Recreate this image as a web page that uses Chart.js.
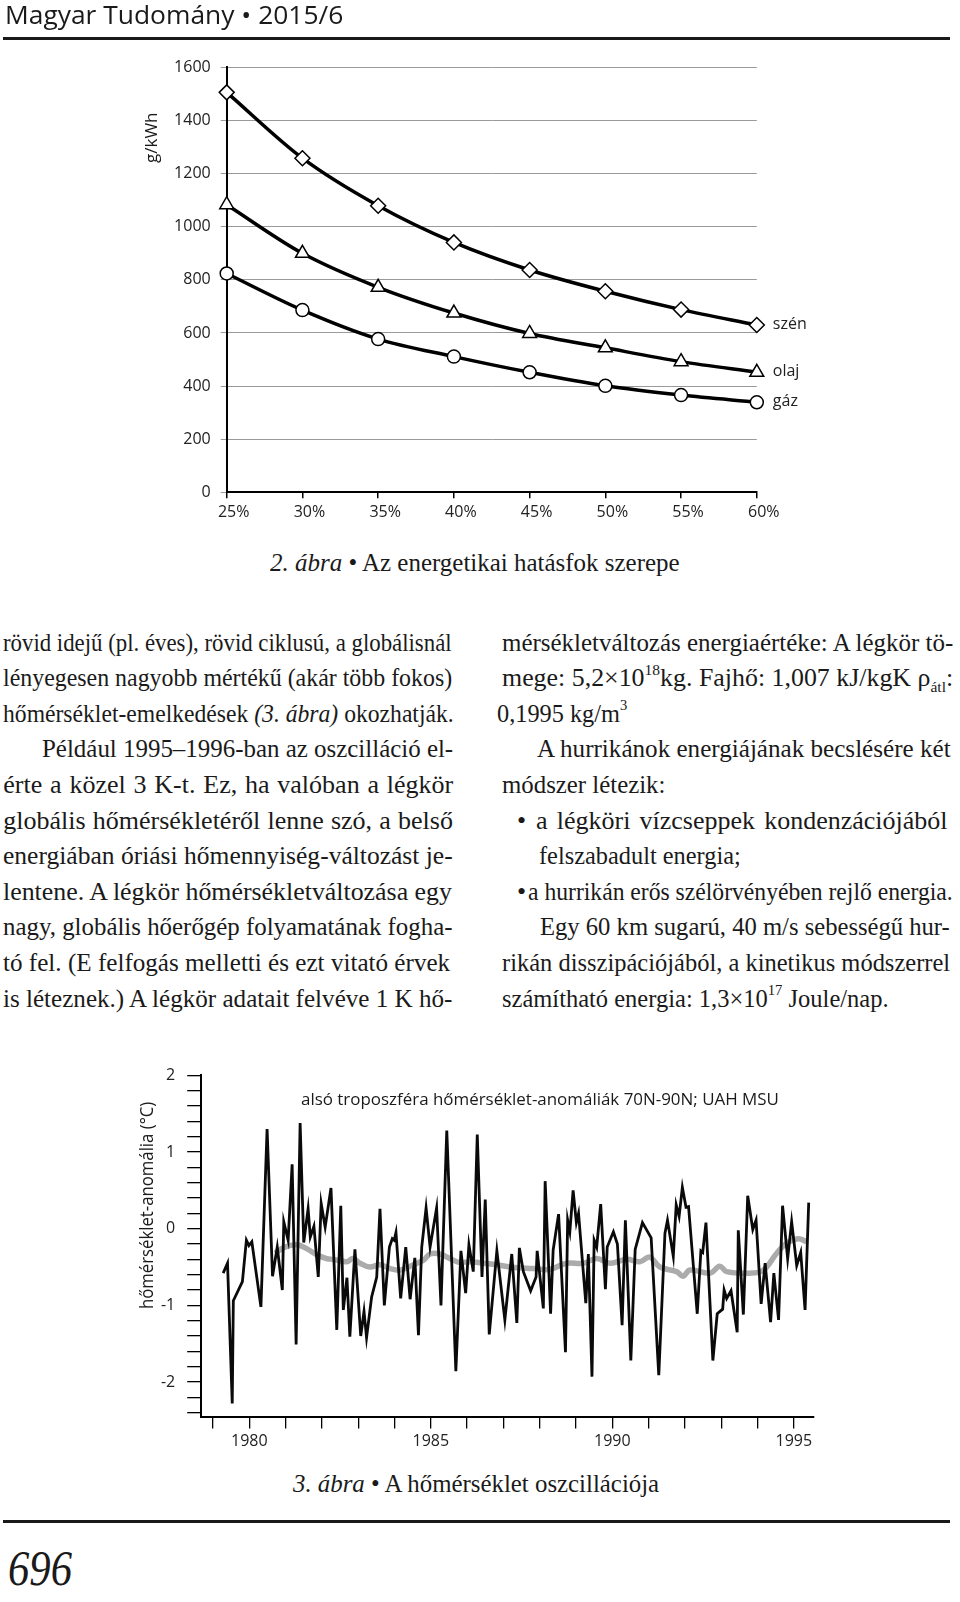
<!DOCTYPE html>
<html><head><meta charset="utf-8">
<script src="https://cdn.jsdelivr.net/npm/chart.js@4.4.1/dist/chart.umd.min.js"></script>
<style>
html,body{margin:0;padding:0;background:#fff;}
body{width:960px;height:1602px;position:relative;overflow:hidden;}
.t{position:absolute;white-space:nowrap;line-height:1;transform-origin:0 0;color:#1a1a1a;}
.serif{font-family:"Liberation Serif","DejaVu Serif",serif;}
.sans{font-family:"Open Sans","Noto Sans",sans-serif;}
.rule{position:absolute;left:3px;width:947px;height:3px;background:#1a1a1a;}
canvas{position:absolute;left:0;}
.sup{font-size:0.6em;position:relative;top:-0.75em;}
.sub{font-size:0.6em;position:relative;top:0.35em;}
</style></head><body>
<div class="rule" style="top:37px"></div>
<div class="rule" style="top:1520px"></div>
<canvas id="c1" width="960" height="540" style="top:0"></canvas>
<canvas id="c2" width="960" height="420" style="top:1040px"></canvas>
<script>
// ---------- Chart 1 data ----------
const efficiencyLabels = ['25%','30%','35%','40%','45%','50%','55%','60%'];
const coalValues = [1506, 1258, 1079, 941, 837, 757, 688, 630];
const oilValues  = [1083, 900, 772, 675, 598, 544, 492, 452];
const gasValues  = [824, 686, 577, 511, 452, 401, 366, 339];
const seriesNames = ['szén', 'olaj', 'gáz'];

// ---------- Chart 2 data ----------
const anomalyYears = [1979.28,1979.40,1979.53,1979.56,1979.81,1979.92,1979.99,1980.07,1980.32,1980.49,1980.64,1980.77,1980.91,1980.95,1981.07,1981.18,1981.29,1981.40,1981.50,1981.62,1981.68,1981.78,1981.90,1981.98,1982.09,1982.25,1982.41,1982.52,1982.59,1982.69,1982.77,1982.91,
1983.07,1983.16,1983.23,1983.37,1983.51,1983.60,1983.72,1983.86,1983.94,1983.99,1984.04,1984.17,1984.31,1984.43,1984.56,1984.66,1984.75,1984.87,1984.98,1985.16,1985.28,1985.44,1985.69,1985.83,1985.96,1986.05,1986.17,1986.28,1986.41,1986.50,1986.61,1986.82,
1987.04,1987.23,1987.37,1987.44,1987.55,1987.75,1987.90,1987.93,1988.10,1988.15,1988.30,1988.37,1988.52,1988.71,1988.77,1988.83,1988.92,1989.01,1989.07,1989.27,1989.34,1989.44,1989.50,1989.57,1989.68,1989.81,1989.86,1990.03,1990.14,1990.27,1990.36,1990.51,1990.63,1990.83,1991.07,1991.28,
1991.45,1991.52,1991.68,1991.76,1991.84,1991.93,1992.03,1992.10,1992.34,1992.44,1992.49,1992.58,1992.77,1992.89,1993.04,1993.08,1993.15,1993.27,1993.44,1993.47,1993.61,1993.73,1993.87,1993.96,1994.10,1994.21,1994.36,1994.45,1994.58,1994.69,1994.83,1994.94,1995.08,1995.19,1995.31,1995.41];
const anomalyValues = [-0.58,-0.45,-2.28,-0.94,-0.69,-0.15,-0.22,-0.17,-1.02,1.30,-0.62,-0.24,-0.80,0.09,-0.15,0.84,-1.51,1.38,-0.18,0.26,-0.11,0.03,-0.63,0.33,0.02,0.53,-1.32,0.30,-1.06,-0.64,-1.41,-0.27,
-1.40,-1.08,-1.42,-0.89,-0.63,0.26,-1.00,-0.24,-0.13,-0.15,-0.05,-0.91,-0.24,-0.92,-0.38,-1.39,-0.24,0.27,-0.24,0.27,-1.00,1.28,-1.86,-0.29,-0.84,-0.21,-0.56,1.23,-0.63,0.38,-1.38,-0.29,
-1.19,-0.33,-1.23,-0.25,-0.56,-0.81,-0.63,-0.29,-1.04,0.62,-1.11,-0.28,0.19,-1.61,0.11,-0.04,0.50,0.08,0.20,-0.97,-0.33,-1.93,-0.15,-0.24,0.32,-0.79,-0.24,-0.04,-0.20,-1.26,0.11,-1.72,-0.27,0.08,-0.12,-1.91,
-0.06,0.11,-0.36,0.31,0.16,0.54,0.28,0.29,-1.11,-0.29,-0.31,0.08,-1.72,-1.11,-1.05,-0.80,-0.91,-0.81,-1.35,-0.02,-1.12,0.43,-0.01,0.11,-0.98,-0.45,-1.22,-0.58,-1.19,0.30,-0.39,0.09,-0.48,-0.31,-1.06,0.34];
const smoothYears = [1980.71,1980.98,1981.31,1981.58,1981.86,1982.13,1982.31,1982.68,1982.86,1983.05,1983.32,1983.60,1983.88,1984.15,1984.52,1984.80,1984.98,1985.25,1985.53,1985.80,1986.08,1986.45,1986.82,1987.18,1987.82,1988.28,1988.74,1989.20,1989.57,1989.94,1990.39,1990.76,1991.03,1991.31,1991.77,1991.95,1992.14,1992.69,1992.96,1993.15,1993.79,1994.16,1994.53,1994.80,1995.12,1995.35];
const smoothValues = [-0.32,-0.24,-0.21,-0.26,-0.34,-0.39,-0.40,-0.43,-0.39,-0.45,-0.50,-0.47,-0.52,-0.54,-0.47,-0.41,-0.33,-0.33,-0.39,-0.44,-0.43,-0.45,-0.47,-0.50,-0.52,-0.53,-0.45,-0.45,-0.39,-0.45,-0.40,-0.43,-0.37,-0.50,-0.56,-0.62,-0.54,-0.58,-0.49,-0.56,-0.58,-0.54,-0.32,-0.19,-0.13,-0.17];
const yearTickLabels = ['1980','1985','1990','1995'];
const anomalyTickLabels = ['2','1','0','-1','-2'];

Chart.defaults.font.family = '"Open Sans","Noto Sans",sans-serif';
Chart.defaults.color = '#222';

// ---------- Chart 1 ----------
const endLabels = {
  id: 'endLabels',
  afterDatasetsDraw(chart) {
    const ctx = chart.ctx;
    ctx.save();
    ctx.font = '16px "Open Sans","Noto Sans",sans-serif';
    ctx.fillStyle = '#222';
    ctx.textBaseline = 'middle';
    chart.data.datasets.forEach((ds, i) => {
      const meta = chart.getDatasetMeta(i);
      const p = meta.data[meta.data.length - 1];
      ctx.fillText(ds.label, p.x + 16, p.y - 1);
    });
    ctx.restore();
  }
};
const lineStyle = {
  borderColor: '#000', borderWidth: 3.5, pointBackgroundColor: '#fff', pointBorderColor: '#000',
  pointBorderWidth: 1.5, cubicInterpolationMode: 'monotone', clip: false, fill: false
};
new Chart(document.getElementById('c1'), {
  type: 'line',
  data: {
    labels: efficiencyLabels,
    datasets: [
      Object.assign({ label: seriesNames[0], data: coalValues, pointStyle: 'rectRot', pointRadius: 7.5 }, lineStyle),
      Object.assign({ label: seriesNames[1], data: oilValues, pointStyle: 'triangle', pointRadius: 8 }, lineStyle),
      Object.assign({ label: seriesNames[2], data: gasValues, pointStyle: 'circle', pointRadius: 6.5 }, lineStyle)
    ]
  },
  options: {
    responsive: false, animation: false, devicePixelRatio: 1,
    layout: { padding: { top: 67.4, right: 203.2, left: 0, bottom: 0 } },
    plugins: { legend: { display: false }, tooltip: { enabled: false } },
    scales: {
      x: {
        type: 'category', offset: false,
        afterFit(s) { s.height = 540 - 492.3; },
        grid: { drawOnChartArea: false, color: '#000', lineWidth: 1.5, tickLength: 6 },
        border: { color: '#000', width: 2 },
        ticks: { padding: 5, labelOffset: 7, font: { size: 16 }, maxRotation: 0 }
      },
      y: {
        min: 0, max: 1600,
        afterFit(s) { s.width = 226.7; },
        grid: { color: '#9a9a9a', lineWidth: 1, tickLength: 6 },
        border: { color: '#000', width: 2 },
        ticks: { stepSize: 200, padding: 10, font: { size: 16 }, callback: (v) => String(v) }
      }
    }
  },
  plugins: [endLabels]
});

// ---------- Chart 2 ----------
new Chart(document.getElementById('c2'), {
  type: 'line',
  data: {
    datasets: [
      { data: anomalyYears.map((x, i) => ({ x, y: anomalyValues[i] })), borderColor: '#0a0a0a', borderWidth: 2.8, pointRadius: 0, tension: 0, fill: false },
      { data: smoothYears.map((x, i) => ({ x, y: smoothValues[i] })), borderColor: '#ababab', borderWidth: 5.5, pointRadius: 0, tension: 0.4, fill: false }
    ]
  },
  options: {
    responsive: false, animation: false, devicePixelRatio: 1,
    layout: { padding: { top: 35.4, right: 146, left: 0, bottom: 0 } },
    plugins: { legend: { display: false }, tooltip: { enabled: false } },
    scales: {
      x: {
        type: 'linear', min: 1978.675, max: 1995.556,
        afterFit(s) { s.height = 420 - 376.5; },
        afterBuildTicks(s) { const t = []; for (let y = 1979; y <= 1995; y++) t.push({ value: y }); s.ticks = t; },
        grid: { drawOnChartArea: false, color: '#000', lineWidth: 1.3, tickLength: 12 },
        border: { color: '#000', width: 2 },
        ticks: { autoSkip: false, maxRotation: 0, padding: 3, font: { size: 16 },
          callback: (v) => yearTickLabels.includes(String(v)) ? String(v) : '' }
      },
      y: {
        min: -2.45, max: 2,
        afterFit(s) { s.width = 201.2; },
        afterBuildTicks(s) { const t = []; for (let k = -12; k <= 10; k++) t.push({ value: Math.round(k * 0.2 * 10) / 10 }); s.ticks = t; },
        grid: { drawOnChartArea: false, color: '#000', lineWidth: 1.3, tickLength: 14 },
        border: { color: '#000', width: 2 },
        ticks: { autoSkip: false, padding: 12, font: { size: 16 },
          callback: (v) => anomalyTickLabels.includes(String(v)) ? String(v) : '' }
      }
    }
  }
});

// ---------- Page text ----------
const items = [];
function addText(html, cls, x0, x1, baseline, size, mode) {
  const el = document.createElement('div');
  el.className = 't ' + cls;
  el.innerHTML = html;
  el.style.fontSize = size + 'px';
  el.style.left = x0 + 'px';
  el.style.top = (baseline - 0.86 * size) + 'px';
  document.body.appendChild(el);
  items.push({ el, target: x1 - x0, mode: mode || 'scale' });
  return el;
}
function addRot(html, cls, cx, cy, len, size) {
  const wrap = document.createElement('div');
  wrap.style.cssText = 'position:absolute;left:' + cx + 'px;top:' + cy + 'px;width:0;height:0;transform:rotate(-90deg);';
  const el = document.createElement('div');
  el.className = 't ' + cls;
  el.innerHTML = html;
  el.style.fontSize = size + 'px';
  el.style.left = (-len / 2) + 'px';
  el.style.top = (-0.62 * size) + 'px';
  wrap.appendChild(el);
  document.body.appendChild(wrap);
  items.push({ el, target: len, mode: 'scale' });
}
function fitAll() {
  items.forEach(it => {
    it.el.style.transform = '';
    it.el.style.wordSpacing = '';
    const w = it.el.scrollWidth || it.el.offsetWidth;
    if (!w) return;
    const spaces = (it.el.textContent.match(/[ \u00a0]/g) || []).length;
    if (it.mode === 'justify' && w < it.target && spaces > 0) {
      it.el.style.wordSpacing = ((it.target - w) / spaces) + 'px';
    } else {
      it.el.style.transform = 'scaleX(' + (it.target / w) + ')';
    }
  });
}

// header
addText('Magyar Tudomány • 2015/6', 'sans', 5, 343, 23.5, 26);
// captions
addText('<i>2. ábra</i> • Az energetikai hatásfok szerepe', 'serif', 270, 680, 572, 26);
addText('<i>3. ábra</i> • A hőmérséklet oszcillációja', 'serif', 293, 659, 1493, 26);
// page number
addText('<i>696</i>', 'serif', 8, 72, 1586, 50);
// chart titles
addText('alsó troposzféra hőmérséklet-anomáliák 70N-90N; UAH MSU', 'sans', 301, 779, 1105, 17);
addRot('g/kWh', 'sans', 153, 138, 51, 16);
addRot('hőmérséklet-anomália (°C)', 'sans', 149, 1206, 207, 19);

const BODY = 26;
const leftLines = [
  ['rövid idejű (pl. éves), rövid ciklusú, a globálisnál', 3.3, 451.7, 'justify'],
  ['lényegesen nagyobb mértékű (akár több fokos)', 3.3, 452.7, 'justify'],
  ['hőmérséklet-emelkedések <i>(3. ábra)</i> okozhatják.', 3.3, 454, 'justify'],
  ['Például 1995–1996-ban az oszcilláció el-', 41.7, 453, 'justify'],
  ['érte a közel 3 K-t. Ez, ha valóban a légkör', 3.3, 453, 'justify'],
  ['globális hőmérsékletéről lenne szó, a belső', 3.3, 452.7, 'justify'],
  ['energiában óriási hőmennyiség-változást je-', 3.3, 453, 'justify'],
  ['lentene. A légkör hőmérsékletváltozása egy', 3.3, 452, 'justify'],
  ['nagy, globális hőerőgép folyamatának fogha-', 3.3, 453, 'justify'],
  ['tó fel. (E felfogás melletti és ezt vitató érvek', 3.3, 450.7, 'justify'],
  ['is léteznek.) A légkör adatait felvéve 1 K hő-', 3.3, 453, 'justify']
];
const rightLines = [
  ['mérsékletváltozás energiaértéke: A légkör tö-', 501.7, 952.7, 'justify'],
  ['mege: 5,2×10<span class="sup">18</span>kg. Fajhő: 1,007 kJ/kgK ρ<span class="sub">átl</span>:', 501.7, 952.7, 'justify'],
  ['0,1995 kg/m<span class="sup">3</span>', 496.7, 626.7, 'scale'],
  ['A hurrikánok energiájának becslésére két', 536.7, 950, 'justify'],
  ['módszer létezik:', 501.7, 665, 'scale'],
  ['a légköri vízcseppek kondenzációjából', 536, 948, 'justify'],
  ['felszabadult energia;', 539.3, 740.7, 'scale'],
  ['a hurrikán erős szélörvényében rejlő energia.', 528.3, 952.7, 'justify'],
  ['Egy 60 km sugarú, 40 m/s sebességű hur-', 540, 950, 'justify'],
  ['rikán disszipációjából, a kinetikus módszerrel', 501.7, 950, 'justify'],
  ['számítható energia: 1,3×10<span class="sup">17</span> Joule/nap.', 501.7, 888, 'scale']
];
const baseY = 652, lineGap = 35.6;
leftLines.forEach((l, i) => addText(l[0], 'serif', l[1], l[2], baseY + i * lineGap, BODY, l[3]));
rightLines.forEach((l, i) => addText(l[0], 'serif', l[1], l[2], baseY + i * lineGap, BODY, l[3]));
// bullets
[5, 7].forEach(i => {
  const b = document.createElement('div');
  b.className = 't serif';
  b.textContent = '•';
  b.style.fontSize = BODY + 'px';
  b.style.left = '517px';
  b.style.top = (baseY + i * lineGap - 0.86 * BODY) + 'px';
  document.body.appendChild(b);
});

fitAll();
if (document.fonts && document.fonts.ready) document.fonts.ready.then(fitAll);
</script>
</body></html>
